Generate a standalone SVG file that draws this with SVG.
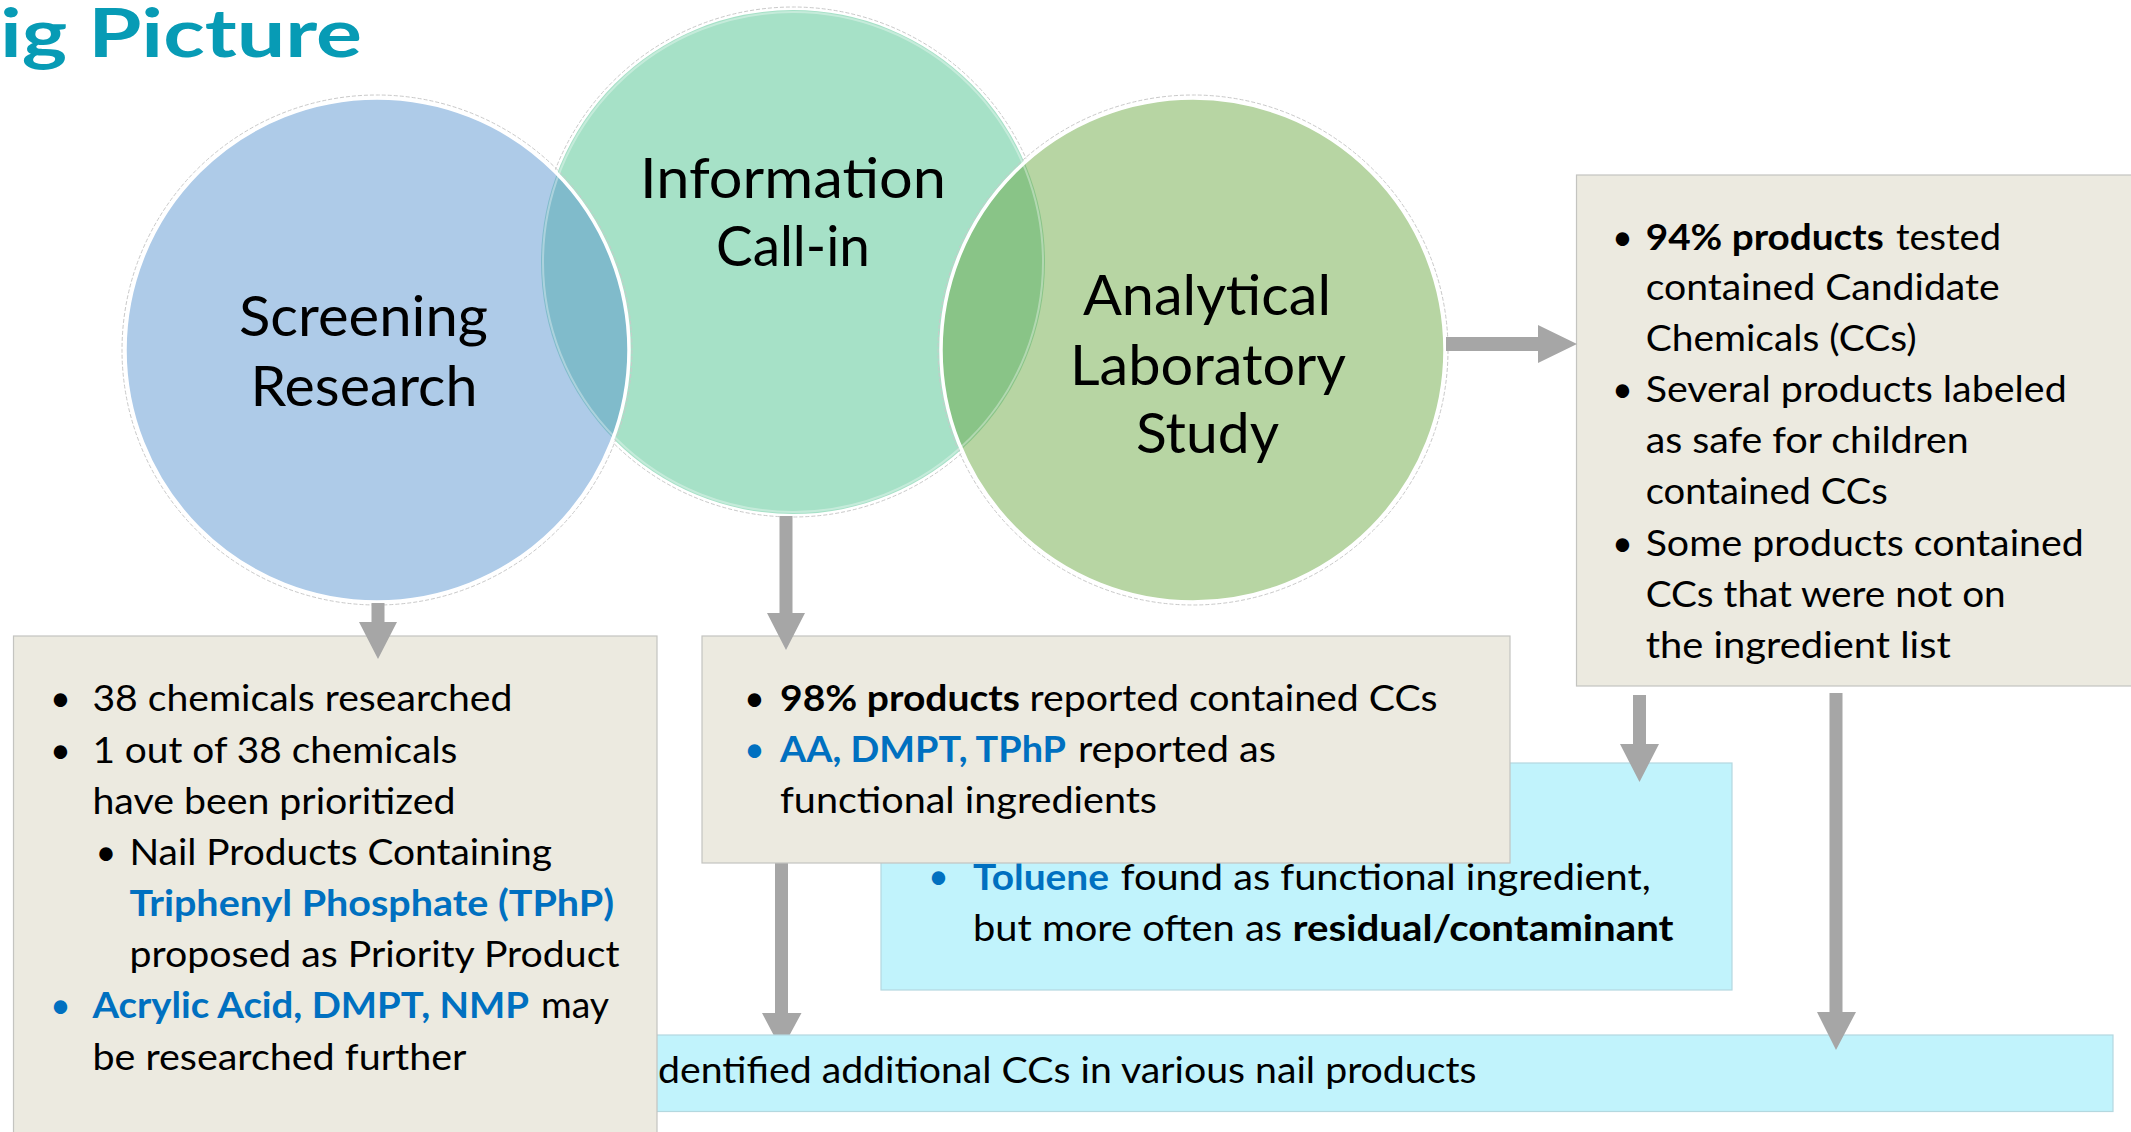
<svg xmlns="http://www.w3.org/2000/svg" width="2131" height="1132" viewBox="0 0 2131 1132">
<style>
  text { font-family: Lato, "Open Sans", "Liberation Sans", sans-serif; fill: #000; }
  .title { font-size: 66px; font-weight: bold; fill: #079BB5; }
  .ctext { font-size: 57px; text-anchor: middle; }
  .bt { font-size: 36px; }
  .b { font-weight: bold; }
  .blue { fill: #0070C0; }
  .beige { fill: #ECEAE0; stroke: #C4C4C0; stroke-width: 1.2; }
  .cyan { fill: #C1F3FC; stroke: #B4D8DF; stroke-width: 1.2; }
  .arrow { fill: #A6A6A6; }
  .ring { fill: none; stroke: #C9C9C9; stroke-width: 1; stroke-dasharray: 4 2; }
  .wline { fill: none; stroke: #FFFFFF; stroke-width: 3.5; }
</style>
<defs>
  <clipPath id="clipGreen"><circle cx="793" cy="262" r="252"/></clipPath>
</defs>
<rect x="0" y="0" width="2131" height="1132" fill="#FFFFFF"/>

<text class="title" x="0" y="57" textLength="362" lengthAdjust="spacingAndGlyphs">ig Picture</text>

<g id="circles">
  <g id="node-info-callin">
    <circle cx="793" cy="262" r="255" class="ring"/>
    <circle cx="793" cy="262" r="252" fill="#A6E1C7"/>
  </g>
  <g id="node-screening">
    <circle cx="377" cy="350" r="255" class="ring"/>
    <circle cx="377" cy="350" r="252" fill="#AECBE8"/>
  </g>
  <g id="node-lab">
    <circle cx="1193" cy="350" r="255" class="ring"/>
    <circle cx="1193" cy="350" r="252" fill="#B7D5A3"/>
  </g>
  <g id="overlaps">
    <circle cx="377" cy="350" r="252" fill="#80BBCB" clip-path="url(#clipGreen)"/>
    <circle cx="1193" cy="350" r="252" fill="#89C487" clip-path="url(#clipGreen)"/>
    <circle cx="793" cy="262" r="250" fill="none" stroke="#FFFFFF" stroke-opacity="0.35" stroke-width="2"/>
    <circle cx="377" cy="350" r="252" class="wline"/>
    <circle cx="1193" cy="350" r="252" class="wline"/>
  </g>
  <text class="ctext" x="363.5" y="336" textLength="249" lengthAdjust="spacingAndGlyphs">Screening</text>
  <text class="ctext" x="364" y="405.6" textLength="227" lengthAdjust="spacingAndGlyphs">Research</text>
  <text class="ctext" x="793" y="197.5" textLength="306" lengthAdjust="spacingAndGlyphs">Information</text>
  <text class="ctext" x="793" y="266" textLength="154" lengthAdjust="spacingAndGlyphs">Call-in</text>
  <text class="ctext" x="1207" y="315" textLength="248" lengthAdjust="spacingAndGlyphs">Analytical</text>
  <text class="ctext" x="1208" y="385" textLength="276" lengthAdjust="spacingAndGlyphs">Laboratory</text>
  <text class="ctext" x="1207.5" y="453" textLength="143" lengthAdjust="spacingAndGlyphs">Study</text>
</g>

<g id="connector-under">
  <polygon class="arrow" points="775,863 788,863 788,1013 801.5,1013 781.5,1050 762,1013 775,1013"/>
</g>

<g id="node-lab-results">
  <rect class="beige" x="1576.5" y="175" width="570" height="511"/>
  <text class="bt" x="1612" y="249.5">•</text>
  <text class="bt" y="249.5"><tspan class="b" x="1645.7" textLength="238" lengthAdjust="spacingAndGlyphs">94% products</tspan><tspan x="1896" textLength="105" lengthAdjust="spacingAndGlyphs">tested</tspan></text>
  <text class="bt" x="1645.7" y="299.6" textLength="354" lengthAdjust="spacingAndGlyphs">contained Candidate</text>
  <text class="bt" x="1645.7" y="351" textLength="271" lengthAdjust="spacingAndGlyphs">Chemicals (CCs)</text>
  <text class="bt" x="1612" y="402">•</text>
  <text class="bt" x="1645.7" y="402" textLength="421" lengthAdjust="spacingAndGlyphs">Several products labeled</text>
  <text class="bt" x="1645.7" y="453" textLength="323" lengthAdjust="spacingAndGlyphs">as safe for children</text>
  <text class="bt" x="1645.7" y="504" textLength="242" lengthAdjust="spacingAndGlyphs">contained CCs</text>
  <text class="bt" x="1612" y="555.8">•</text>
  <text class="bt" x="1645.7" y="555.8" textLength="438" lengthAdjust="spacingAndGlyphs">Some products contained</text>
  <text class="bt" x="1645.7" y="607" textLength="360" lengthAdjust="spacingAndGlyphs">CCs that were not on</text>
  <text class="bt" x="1645.7" y="658" textLength="305" lengthAdjust="spacingAndGlyphs">the ingredient list</text>
</g>

<g id="node-toluene">
  <rect class="cyan" x="881" y="763" width="851" height="227"/>
  <text class="bt blue" x="928" y="889">•</text>
  <text class="bt" y="889.5"><tspan class="b blue" x="973" textLength="136" lengthAdjust="spacingAndGlyphs">Toluene</tspan><tspan x="1120.7" textLength="530" lengthAdjust="spacingAndGlyphs">found as functional ingredient,</tspan></text>
  <text class="bt" y="940.5"><tspan x="973" textLength="309" lengthAdjust="spacingAndGlyphs">but more often as</tspan><tspan class="b" x="1292.6" textLength="381" lengthAdjust="spacingAndGlyphs">residual/contaminant</tspan></text>
</g>

<g id="node-identified">
  <rect class="cyan" x="600" y="1035" width="1513" height="76.5"/>
  <text class="bt" x="658" y="1083" textLength="818.5" lengthAdjust="spacingAndGlyphs">dentified additional CCs in various nail products</text>
</g>

<g id="node-screening-results">
  <rect class="beige" x="13.5" y="636" width="643.5" height="510"/>
  <text class="bt" x="50" y="711">•</text>
  <text class="bt" x="92.4" y="711" textLength="420" lengthAdjust="spacingAndGlyphs">38 chemicals researched</text>
  <text class="bt" x="50" y="762.7">•</text>
  <text class="bt" x="92.4" y="762.7" textLength="365" lengthAdjust="spacingAndGlyphs">1 out of 38 chemicals</text>
  <text class="bt" x="92.4" y="813.5" textLength="363" lengthAdjust="spacingAndGlyphs">have been prioritized</text>
  <text class="bt" x="95.5" y="865">•</text>
  <text class="bt" x="129.5" y="865" textLength="422.5" lengthAdjust="spacingAndGlyphs">Nail Products Containing</text>
  <text class="bt b blue" x="129.5" y="916" textLength="484.5" lengthAdjust="spacingAndGlyphs">Triphenyl Phosphate (TPhP)</text>
  <text class="bt" x="129.5" y="967" textLength="490" lengthAdjust="spacingAndGlyphs">proposed as Priority Product</text>
  <text class="bt blue" x="50" y="1018">•</text>
  <text class="bt" y="1018"><tspan class="b blue" x="92.4" textLength="436.6" lengthAdjust="spacingAndGlyphs">Acrylic Acid, DMPT, NMP</tspan><tspan x="541" textLength="68" lengthAdjust="spacingAndGlyphs">may</tspan></text>
  <text class="bt" x="92.4" y="1070" textLength="374" lengthAdjust="spacingAndGlyphs">be researched further</text>
</g>

<g id="node-callin-results">
  <rect class="beige" x="702" y="636" width="808" height="227"/>
  <text class="bt" x="744" y="710.7">•</text>
  <text class="bt" y="710.7"><tspan class="b" x="780" textLength="240" lengthAdjust="spacingAndGlyphs">98% products</tspan><tspan x="1029.6" textLength="408" lengthAdjust="spacingAndGlyphs">reported contained CCs</tspan></text>
  <text class="bt blue" x="744" y="761.7">•</text>
  <text class="bt" y="761.7"><tspan class="b blue" x="780" textLength="286" lengthAdjust="spacingAndGlyphs">AA, DMPT, TPhP</tspan><tspan x="1078" textLength="198" lengthAdjust="spacingAndGlyphs">reported as</tspan></text>
  <text class="bt" x="780" y="813" textLength="377" lengthAdjust="spacingAndGlyphs">functional ingredients</text>
</g>

<g id="connectors">
  <polygon class="arrow" points="371.5,603 384.5,603 384.5,622 397,622 378,659 359,622 371.5,622"/>
  <polygon class="arrow" points="779.5,516 792.5,516 792.5,613 805,613 786,650 767,613 779.5,613"/>
  <polygon class="arrow" points="1446,337 1538,337 1538,325 1577,344 1538,363 1538,351 1446,351"/>
  <polygon class="arrow" points="1633,695 1646,695 1646,744 1659,744 1639.5,782 1620,744 1633,744"/>
  <polygon class="arrow" points="1829.5,693 1842.5,693 1842.5,1012 1856,1012 1836,1050 1817,1012 1829.5,1012"/>
</g>
</svg>
